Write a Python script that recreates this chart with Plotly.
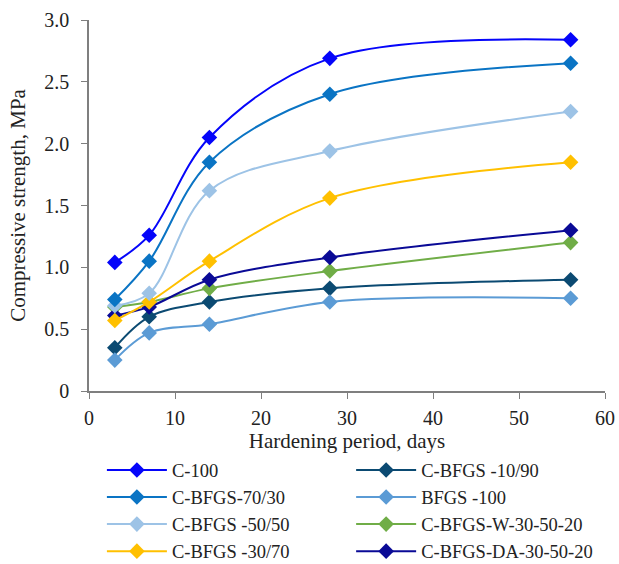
import plotly.graph_objects as go

days = [3, 7, 14, 28, 56]
names = ["C-100", "C-BFGS-70/30", "C-BFGS -50/50", "C-BFGS -30/70",
         "C-BFGS -10/90", "BFGS -100", "C-BFGS-W-30-50-20", "C-BFGS-DA-30-50-20"]
c100 = [1.04, 1.26, 2.05, 2.69, 2.84]
c7030 = [0.74, 1.05, 1.85, 2.40, 2.65]
c5050 = [0.69, 0.79, 1.62, 1.94, 2.26]
c3070 = [0.57, 0.72, 1.05, 1.56, 1.85]
c1090 = [0.35, 0.60, 0.72, 0.83, 0.90]
bfgs100 = [0.25, 0.47, 0.54, 0.72, 0.75]
cw = [0.68, 0.72, 0.83, 0.97, 1.20]
cda = [0.61, 0.68, 0.90, 1.08, 1.30]
series = [c100, c7030, c5050, c3070, c1090, bfgs100, cw, cda]
colors = ["#0505FA", "#0A74C4", "#9DC3E6", "#FFC000",
          "#0B4A72", "#5B9BD5", "#70AD47", "#0A0A96"]
legends = ["legend", "legend", "legend", "legend",
           "legend2", "legend2", "legend2", "legend2"]

yticks = [0, 0.5, 1.0, 1.5, 2.0, 2.5, 3.0]
yticktext = ["0", "0.5", "1.0", "1.5", "2.0", "2.5", "3.0"]
xticks = [0, 10, 20, 30, 40, 50, 60]

fig = go.Figure()
order = [4, 5, 6, 7, 3, 2, 1, 0]
for i in order:
    fig.add_trace(go.Scatter(
        x=days, y=series[i], name=names[i], mode="lines+markers",
        line=dict(color=colors[i], width=2, shape="spline", smoothing=1.0),
        marker=dict(symbol="diamond", size=12, color=colors[i]),
        legend=legends[i], legendrank=i))

font = "Liberation Serif, Times New Roman, serif"
fig.update_layout(
    width=619, height=564,
    margin=dict(l=89, r=14, t=20, b=173, autoexpand=False),
    paper_bgcolor="white", plot_bgcolor="white",
    font=dict(family=font, size=20, color="#222222"),
    xaxis=dict(range=[0, 60], tickvals=xticks, showgrid=False, zeroline=False,
               automargin=False,
               showline=True, linecolor="#7f7f7f", linewidth=1.5,
               ticks="outside", ticklen=6, tickcolor="#7f7f7f",
               tickfont=dict(size=20), ticklabelstandoff=2,
               title=dict(text="Hardening period, days", standoff=4,
                          font=dict(size=21))),
    yaxis=dict(range=[0, 3.0], tickvals=yticks, ticktext=yticktext,
               showgrid=False, zeroline=False, automargin=False,
               showline=True, linecolor="#7f7f7f", linewidth=1.5,
               ticks="outside", ticklen=6, tickcolor="#7f7f7f",
               tickfont=dict(size=20), ticklabelstandoff=8,
               title=dict(text="Compressive strength, MPa", standoff=13,
                          font=dict(size=21))),
    legend=dict(x=0.025, y=-0.163, xanchor="left", yanchor="top",
                font=dict(size=18.5), itemwidth=60, bgcolor="rgba(0,0,0,0)",
                traceorder="normal"),
    legend2=dict(x=0.508, y=-0.163, xanchor="left", yanchor="top",
                 font=dict(size=18.5), itemwidth=60, bgcolor="rgba(0,0,0,0)",
                 traceorder="normal"),
)
fig.write_html("out.html")
